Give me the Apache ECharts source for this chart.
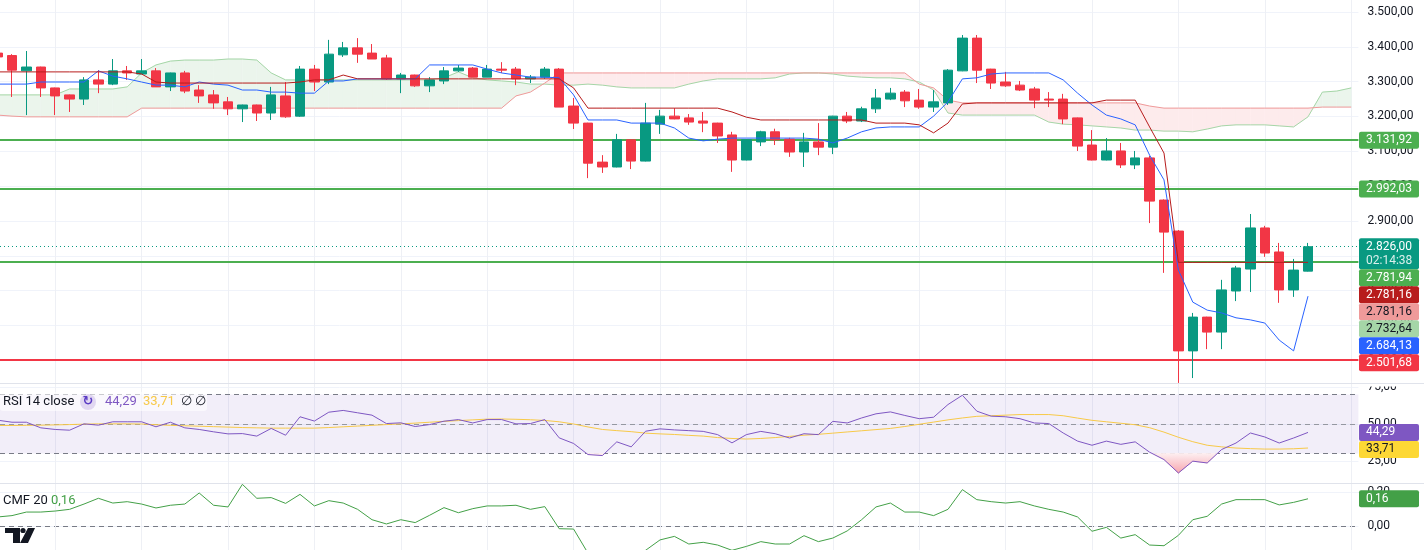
<!DOCTYPE html>
<html>
<head>
<meta charset="utf-8">
<script src="https://cdn.jsdelivr.net/npm/echarts@6/dist/echarts.min.js"></script>
<style>
  html, body { margin: 0; padding: 0; background: #fff; }
  #chart { width: 1424px; height: 550px; }
</style>
</head>
<body>
<div id="chart"></div>
<script>
// candles: [open, close, low, high], bar -1 is the one cut by the left edge
const candles = [
  [3382,3371,3362,3391], [3375,3333,3256,3379], [3331,3342,3204,3388], [3342,3282,3256,3343], [3282,3259,3204,3283],
  [3262,3250,3213,3263], [3250,3305,3233,3313], [3305,3293,3267,3333], [3293,3331,3290,3365], [3331,3325,3305,3345],
  [3322,3331,3322,3365], [3331,3285,3285,3339], [3285,3325,3273,3326], [3325,3273,3267,3331], [3276,3259,3239,3290],
  [3262,3239,3222,3276], [3242,3222,3204,3256], [3222,3233,3184,3234], [3233,3210,3187,3234], [3210,3262,3190,3285],
  [3259,3199,3196,3299], [3201,3336,3199,3345], [3336,3299,3273,3348], [3299,3379,3293,3420], [3377,3397,3371,3414],
  [3397,3379,3354,3425], [3382,3365,3365,3408], [3368,3308,3305,3377], [3308,3319,3267,3325], [3319,3288,3285,3320],
  [3288,3305,3270,3313], [3302,3331,3293,3342], [3331,3339,3328,3348], [3339,3313,3313,3342], [3313,3336,3313,3348],
  [3336,3333,3325,3356], [3336,3308,3290,3342], [3308,3313,3296,3319], [3313,3336,3308,3342], [3336,3227,3227,3339],
  [3230,3181,3164,3253], [3181,3066,3023,3182], [3069,3055,3038,3089], [3055,3133,3054,3150], [3133,3072,3049,3134],
  [3072,3181,3071,3239], [3178,3201,3150,3219], [3201,3193,3192,3224], [3196,3184,3176,3207], [3187,3181,3155,3213],
  [3181,3144,3124,3182], [3147,3075,3041,3156], [3075,3133,3074,3134], [3127,3156,3115,3159], [3156,3133,3118,3165],
  [3135,3098,3084,3139], [3098,3127,3055,3153], [3127,3112,3089,3181], [3112,3201,3092,3202], [3201,3187,3181,3213],
  [3187,3222,3184,3228], [3222,3253,3210,3279], [3250,3267,3247,3282], [3270,3245,3227,3276], [3247,3227,3222,3279],
  [3227,3242,3213,3276], [3239,3333,3233,3336], [3331,3425,3330,3434], [3425,3333,3296,3434], [3336,3296,3279,3337],
  [3299,3288,3285,3328], [3290,3276,3273,3302], [3279,3247,3224,3285], [3250,3247,3227,3270], [3250,3193,3178,3265],
  [3196,3115,3101,3197], [3118,3075,3074,3161], [3075,3101,3074,3138], [3101,3061,3052,3124], [3061,3081,3049,3101],
  [3081,2957,2894,3087], [2960,2868,2751,2962], [2871,2527,2435,2874], [2527,2624,2449,2636], [2624,2581,2532,2625],
  [2581,2702,2532,2731], [2699,2765,2670,2771], [2762,2880,2696,2920], [2880,2808,2797,2886], [2811,2702,2665,2837],
  [2702,2759,2682,2791], [2756,2826,2755,2837]
];

// Ichimoku
const tenkan = [
  3293,3293,3293,3299,3299,3299,3299,3331,3316,3308,
  3299,3290,3290,3285,3299,3293,3290,3276,3276,3270,
  3270,3267,3267,3302,3302,3308,3308,3308,3308,3308,
  3348,3348,3348,3348,3336,3325,3319,3313,3313,3311,
  3262,3190,3190,3190,3181,3181,3181,3167,3138,3130,
  3135,3138,3138,3138,3138,3138,3138,3135,3124,3138,
  3156,3167,3170,3170,3170,3201,3242,3308,3311,3322,
  3325,3325,3325,3325,3305,3267,3233,3204,3193,3176,
  3089,3018,2759,2667,2644,2636,2622,2616,2607,2558,
  2527,2684.13
];
const kijun = [
  3328,3328,3328,3328,3328,3328,3328,3328,3328,3328,
  3322,3299,3296,3296,3296,3296,3296,3296,3296,3296,
  3296,3299,3305,3305,3319,3308,3308,3308,3308,3308,
  3308,3308,3308,3308,3308,3308,3308,3308,3308,3308,
  3282,3224,3224,3224,3224,3224,3224,3224,3224,3224,
  3224,3213,3198,3190,3190,3190,3190,3190,3190,3190,
  3190,3181,3181,3181,3176,3153,3181,3236,3239,3239,
  3239,3239,3239,3239,3239,3239,3239,3247,3247,3247,
  3170,3095,2781.16,2781.16,2781.16,2781.16,2781.16,2781.16,2781.16,2781.16,
  2781.16,2781.16
];
const spanA = [
  3262,3262,3262,3262,3262,3279,3279,3279,3279,3285,
  3325,3348,3359,3362,3362,3362,3365,3365,3362,3325,
  3305,3305,3305,3305,3305,3305,3305,3305,3305,3305,
  3305,3311,3328,3311,3305,3302,3299,3293,3293,3290,
  3290,3293,3290,3285,3282,3282,3282,3282,3293,3302,
  3308,3308,3308,3308,3311,3322,3325,3325,3322,3316,
  3313,3311,3311,3308,3299,3276,3210,3204,3204,3204,
  3204,3204,3204,3184,3178,3176,3173,3170,3167,3161,
  3161,3158,3158,3156,3164,3173,3176,3176,3176,3173,
  3170,3199,3270,3273,3282
];
const spanB = [
  3204,3201,3199,3199,3199,3199,3199,3199,3199,3199,
  3224,3224,3224,3224,3224,3224,3224,3224,3224,3224,
  3224,3224,3224,3224,3224,3224,3224,3224,3224,3224,
  3224,3224,3224,3224,3224,3224,3259,3270,3296,3325,
  3325,3325,3325,3325,3325,3325,3325,3325,3325,3325,
  3325,3325,3325,3325,3325,3325,3325,3325,3325,3325,
  3325,3325,3325,3325,3293,3282,3247,3239,3239,3239,
  3239,3239,3239,3239,3239,3239,3239,3239,3239,3239,
  3230,3224,3224,3224,3224,3224,3224,3224,3224,3224,
  3224,3224,3227,3227,3227
];

// RSI 14 and its moving average
const rsi = [
  52.6,51.2,51.2,47.4,46.3,45.8,50.1,49.2,51.5,51.5,
  51.5,48.1,51.2,47.4,46.3,44.7,43.3,43.5,41.8,47.0,
  42.4,54.9,52.0,58.0,59.2,57.6,56.0,50.3,50.8,48.3,
  49.6,51.9,53.0,50.7,53.0,53.0,50.1,50.3,53.0,40.6,
  36.8,29.3,28.6,37.9,34.5,45.1,46.7,46.0,45.5,45.0,
  42.8,37.2,42.8,45.0,43.4,40.5,43.4,42.8,51.8,50.7,
  54.1,56.9,58.2,55.8,53.6,54.6,63.2,69.5,58.7,55.3,
  54.9,53.6,50.7,50.3,43.9,38.4,35.6,38.4,36.2,37.9,
  30.9,25.9,16.8,24.8,23.6,32.7,37.1,43.9,41.2,37.1,
  40.5,44.29
];
const rsiMa = [
  49.0,49.0,49.1,49.2,49.4,49.6,49.9,50.1,50.1,50.1,
  50.0,49.5,49.1,48.8,48.5,48.2,47.9,47.6,47.4,47.2,
  47.2,47.2,47.2,47.6,48.1,48.6,49.1,49.6,50.1,50.6,
  51.2,51.8,52.3,52.8,53.3,53.4,53.2,52.9,52.4,51.5,
  50.0,48.0,46.3,45.5,44.8,43.8,43.3,42.9,42.3,41.8,
  40.8,40.2,39.8,40.2,40.8,41.6,42.4,43.0,43.8,44.6,
  45.4,46.2,47.0,48.3,49.8,51.3,52.8,54.1,55.2,55.6,
  56.0,56.4,56.4,56.4,55.6,54.0,52.5,51.5,50.5,49.5,
  47.5,44.5,41.0,38.0,35.6,34.5,33.7,33.3,33.0,33.0,
  33.2,33.71
];

// CMF 20
const cmf = [
  0.053,0.061,0.082,0.082,0.088,0.098,0.129,0.163,0.135,0.143,
  0.129,0.106,0.122,0.129,0.194,0.122,0.112,0.245,0.163,0.167,
  0.133,0.186,0.118,0.149,0.135,0.098,0.037,0.012,0.037,0.020,
  0.063,0.108,0.078,0.102,0.118,0.118,0.122,0.098,0.114,-0.016,
  -0.018,-0.16,-0.2,-0.21,-0.18,-0.143,-0.082,-0.061,-0.106,-0.096,
  -0.112,-0.143,-0.120,-0.092,-0.106,-0.106,-0.057,-0.092,-0.071,-0.029,
  0.037,0.112,0.135,0.082,0.082,0.061,0.098,0.214,0.155,0.143,
  0.135,0.143,0.118,0.098,0.082,0.053,-0.031,-0.008,-0.071,-0.051,
  -0.112,-0.116,-0.055,0.037,0.057,0.129,0.155,0.155,0.155,0.124,
  0.139,0.16
];

const greenLevels = [3131.92, 2992.03, 2781.94];
const redLevel = 2501.68;
const leadB = 2781.16;
const leadA = 2732.64;
const countdown = '02:14:38';
const priceTicks = [2500, 2600, 2700, 2800, 2900, 3000, 3100, 3200, 3300, 3400, 3500];
const rsiTicks = [25, 50, 75];
const cmfTicks = [0, 0.2];
const timeGrid = [3, 9, 15, 21, 27, 33, 39, 45, 51, 57, 63, 69, 75, 81, 87, 93];

const lastPrice = candles[candles.length - 1][1];
const FONT = 'Roboto, "Liberation Sans", sans-serif';
const UP = '#089981', DOWN = '#f23645';

function fmt(v, d) {
  const s = Math.abs(v).toFixed(d);
  let [ip, dp] = s.split('.');
  ip = ip.replace(/\B(?=(\d{3})+(?!\d))/g, '.');
  return (v < 0 ? '−' : '') + ip + (dp ? ',' + dp : '');
}
// bar number of each row: the first row is bar -1
const xy = (arr) => arr.map((v, i) => [i - 1, v]);

// cloud between the two lead lines, green where lead 1 is above, red where below
function cloudItem(params, api) {
  const i = params.dataIndex;
  if (i >= spanA.length - 1) return null;
  const x0 = i - 1, x1 = i;
  const a0 = spanA[i], b0 = spanB[i], a1 = spanA[i + 1], b1 = spanB[i + 1];
  const d0 = a0 - b0, d1 = a1 - b1;
  const poly = (pts, up) => {
    const c = up ? '#ebf5ec' : '#fdebec';
    return { type: 'polygon', shape: { points: pts.map(p => api.coord(p)) }, style: { fill: c, stroke: c, lineWidth: 0.6 } };
  };
  if (d0 * d1 >= 0) return poly([[x0, a0], [x1, a1], [x1, b1], [x0, b0]], d0 + d1 >= 0);
  const t = d0 / (d0 - d1);
  const xc = x0 + t, yc = a0 + t * (a1 - a0);
  return { type: 'group', children: [poly([[x0, a0], [xc, yc], [x0, b0]], d0 > 0), poly([[xc, yc], [x1, a1], [x1, b1]], d1 > 0)] };
}
// oversold fill between RSI and 30
function oversoldItem(params, api) {
  const i = params.dataIndex;
  if (i >= rsi.length - 1) return null;
  const x0 = i - 1, x1 = i, r0 = rsi[i], r1 = rsi[i + 1];
  if (r0 >= 30 && r1 >= 30) return null;
  let pts;
  if (r0 < 30 && r1 < 30) pts = [[x0, 30], [x0, r0], [x1, r1], [x1, 30]];
  else {
    const xc = x0 + (r0 - 30) / (r0 - r1);
    pts = r0 < 30 ? [[x0, 30], [x0, r0], [xc, 30]] : [[xc, 30], [x1, r1], [x1, 30]];
  }
  const top = api.coord([0, 30])[1], bottom = api.coord([0, 16])[1];
  const fill = new echarts.graphic.LinearGradient(0, top, 0, bottom, [
    { offset: 0, color: '#fdeef0' }, { offset: 1, color: '#f7a3ac' }], true);
  return { type: 'polygon', shape: { points: pts.map(p => api.coord(p)) }, style: { fill: fill, stroke: fill, lineWidth: 0.6 } };
}

const gridRight = 65.6;
function xAx(i) {
  return {
    type: 'value', gridIndex: i, min: -0.8333, max: 93.5,
    axisLine: { show: false }, axisTick: { show: false }, axisLabel: { show: false },
    splitLine: { show: false }
  };
}
function yAx(i, min, max, ticks) {
  return {
    type: 'value', gridIndex: i, position: 'right', min: min, max: max,
    axisLine: { show: false },
    axisTick: { show: false, customValues: ticks },
    axisLabel: {
      customValues: ticks, formatter: (v) => fmt(v, 2),
      color: '#131722', fontSize: 12, fontFamily: FONT, margin: 9
    },
    splitLine: { show: true, lineStyle: { color: '#f0f3fa', width: 1 } }
  };
}
const vLines = {
  silent: true, z: 0, symbol: ['none', 'none'], label: { show: false },
  lineStyle: { color: '#eef0f5', width: 1, type: 'solid' },
  data: timeGrid.map(k => ({ xAxis: k }))
};

const option = {
  animation: false,
  backgroundColor: '#ffffff',
  grid: [
    { left: 0, right: gridRight, top: 0, height: 383 },
    { left: 0, right: gridRight, top: 384, height: 99 },
    { left: 0, right: gridRight, top: 484, height: 66 }
  ],
  xAxis: [xAx(0), xAx(1), xAx(2)],
  yAxis: [
    yAx(0, 2434.8, 3534.45, priceTicks),
    yAx(1, 10, 77.12, rsiTicks),
    yAx(2, -0.1412, 0.247, cmfTicks)
  ],
  series: [
    // cloud
    { type: 'custom', data: spanA.map((a, i) => [i - 1, a, spanB[i]]), encode: { x: 0, y: [1, 2] },
      renderItem: cloudItem, clip: true, silent: true, z: 1, markLine: vLines },
    { type: 'line', name: 'Lead 1', data: xy(spanA), symbol: 'none', lineStyle: { color: '#a5d6a7', width: 1 }, z: 2 },
    { type: 'line', name: 'Lead 2', data: xy(spanB), symbol: 'none', lineStyle: { color: '#ef9a9a', width: 1 }, z: 2 },
    // price
    {
      type: 'candlestick', data: candles.map((c, i) => [i - 1, c[0], c[1], c[2], c[3]]),
      encode: { x: 0, y: [1, 2, 3, 4] }, barWidth: 10, z: 3,
      itemStyle: { color: UP, color0: DOWN, borderColor: UP, borderColor0: DOWN, borderWidth: 1 },
      markLine: {
        silent: true, z: 3, symbol: ['none', 'none'], label: { show: false },
        data: [
          ...greenLevels.map(v => ({ yAxis: v, lineStyle: { color: '#4caf50', width: 2, type: 'solid' } })),
          { yAxis: redLevel, lineStyle: { color: '#f23645', width: 2, type: 'solid' } },
          { yAxis: lastPrice, lineStyle: { color: UP, width: 1, type: [1, 3] } }
        ]
      }
    },
    { type: 'line', name: 'Conversion', data: xy(tenkan), symbol: 'none', lineStyle: { color: '#2962ff', width: 1 }, z: 4 },
    { type: 'line', name: 'Base', data: xy(kijun), symbol: 'none', lineStyle: { color: '#b71c1c', width: 1 }, z: 4 },
    // RSI
    {
      type: 'line', xAxisIndex: 1, yAxisIndex: 1, data: xy(rsi), symbol: 'none', z: 4,
      lineStyle: { color: '#7e57c2', width: 1 },
      markArea: { silent: true, itemStyle: { color: 'rgba(126,87,194,0.1)' }, data: [[{ yAxis: 30 }, { yAxis: 70 }]] },
      markLine: {
        silent: true, z: 2, symbol: ['none', 'none'], label: { show: false },
        lineStyle: { color: '#787b86', width: 1, type: [5, 4] },
        data: [{ yAxis: 70 }, { yAxis: 50, lineStyle: { color: '#9598a1', type: [5, 4] } }, { yAxis: 30 }]
      }
    },
    { type: 'custom', xAxisIndex: 1, yAxisIndex: 1, data: xy(rsi), encode: { x: 0, y: 1 },
      renderItem: oversoldItem, clip: true, silent: true, z: 2, markLine: vLines },
    { type: 'line', xAxisIndex: 1, yAxisIndex: 1, data: xy(rsiMa), symbol: 'none', z: 3, lineStyle: { color: '#f7c948', width: 1 } },
    // CMF
    {
      type: 'line', xAxisIndex: 2, yAxisIndex: 2, data: xy(cmf), symbol: 'none', z: 3,
      lineStyle: { color: '#43a047', width: 1 },
      markLine: {
        silent: true, z: 1, symbol: ['none', 'none'], label: { show: false },
        lineStyle: { color: '#787b86', width: 1, type: [5, 4] },
        data: [{ yAxis: 0 }, ...timeGrid.map(k => ({ xAxis: k, lineStyle: { color: '#eef0f5', type: 'solid' } }))]
      }
    }
  ]
};

const chart = echarts.init(document.getElementById('chart'));
chart.setOption(option);

// right-side value tags, stacked so they do not overlap
function tag(y, h, bg, fg, text, sub) {
  const els = [
    { type: 'rect', z: 100, shape: { x: 1359, y: y, width: 60, height: h, r: 2 }, style: { fill: bg } },
    { type: 'text', z: 101, style: { x: 1366, y: y + 8.5, text: text, fill: fg, font: '12px ' + FONT, verticalAlign: 'middle' } }
  ];
  if (sub) els.push({ type: 'text', z: 101, style: { x: 1366, y: y + 23, text: sub, fill: 'rgba(255,255,255,0.85)', font: '12px ' + FONT, verticalAlign: 'middle' } });
  return els;
}
function stackTags(list, axisIndex) {
  let prevBottom = -Infinity;
  let out = [];
  list.forEach(t => {
    const py = chart.convertToPixel({ yAxisIndex: axisIndex }, t.v);
    const h = t.sub ? 31 : 17;
    const top = Math.max(py - 8.5, prevBottom);
    prevBottom = top + h;
    out = out.concat(tag(top, h, t.bg, t.fg, fmt(t.v, 2), t.sub));
  });
  return out;
}
const priceTags = stackTags([
  { v: greenLevels[0], bg: '#4caf50', fg: '#fff' },
  { v: greenLevels[1], bg: '#4caf50', fg: '#fff' },
  { v: lastPrice, bg: UP, fg: '#fff', sub: countdown },
  { v: greenLevels[2], bg: '#4caf50', fg: '#fff' },
  { v: kijun[kijun.length - 1], bg: '#b71c1c', fg: '#fff' },
  { v: leadB, bg: '#ef9a9a', fg: '#131722' },
  { v: leadA, bg: '#a5d6a7', fg: '#131722' },
  { v: tenkan[tenkan.length - 1], bg: '#2962ff', fg: '#fff' },
  { v: redLevel, bg: '#f23645', fg: '#fff' }
], 0);
const rsiTags = stackTags([
  { v: rsi[rsi.length - 1], bg: '#7e57c2', fg: '#fff' },
  { v: rsiMa[rsiMa.length - 1], bg: '#fdd835', fg: '#131722' }
], 1);
const cmfTags = stackTags([{ v: cmf[cmf.length - 1], bg: '#43a047', fg: '#fff' }], 2);

const txt = (x, y, s, fill, size) => ({ type: 'text', z: 101, style: { x: x, y: y, text: s, fill: fill, font: (size || 13) + 'px ' + FONT, verticalAlign: 'middle' } });

chart.setOption({
  graphic: [
    { type: 'rect', z: 90, shape: { x: 1359, y: 372, width: 65, height: 14.5 }, style: { fill: '#fff' } },
    { type: 'line', z: 91, shape: { x1: 0, y1: 383.5, x2: 1424, y2: 383.5 }, style: { stroke: '#e0e3eb', lineWidth: 1 } },
    { type: 'line', z: 91, shape: { x1: 0, y1: 483.5, x2: 1424, y2: 483.5 }, style: { stroke: '#e0e3eb', lineWidth: 1 } },
    ...priceTags, ...rsiTags, ...cmfTags,
    // RSI legend
    { type: 'rect', z: 99, shape: { x: 0, y: 392, width: 207, height: 19, r: 3 }, style: { fill: 'rgba(255,255,255,0.6)' } },
    txt(3, 402, 'RSI 14 close', '#131722'),
    { type: 'circle', z: 100, shape: { cx: 88, cy: 402, r: 8 }, style: { fill: 'rgba(126,87,194,0.2)' } },
    { type: 'text', z: 101, style: { x: 88, y: 402, text: '↻', fill: '#5b3cc4', font: 'bold 13px "DejaVu Sans"', align: 'center', verticalAlign: 'middle' } },
    txt(105, 402, fmt(rsi[rsi.length - 1], 2), '#7e57c2'),
    txt(143, 402, fmt(rsiMa[rsiMa.length - 1], 2), '#f7c948'),
    txt(181, 402, '∅', '#131722'),
    txt(195, 402, '∅', '#131722'),
    // CMF legend
    txt(3, 501, 'CMF 20', '#131722'),
    txt(51, 501, fmt(cmf[cmf.length - 1], 2), '#43a047'),
    // logo
    { type: 'rect', z: 101, shape: { x: 5, y: 528, width: 15, height: 5 }, style: { fill: '#131722' } },
    { type: 'rect', z: 101, shape: { x: 13, y: 528, width: 7, height: 15 }, style: { fill: '#131722' } },
    { type: 'circle', z: 101, shape: { cx: 23, cy: 530.5, r: 2.6 }, style: { fill: '#131722' } },
    { type: 'polygon', z: 101, shape: { points: [[28, 528], [35, 528], [28, 543], [20, 543]] }, style: { fill: '#131722' } }
  ]
});
</script>
</body>
</html>
